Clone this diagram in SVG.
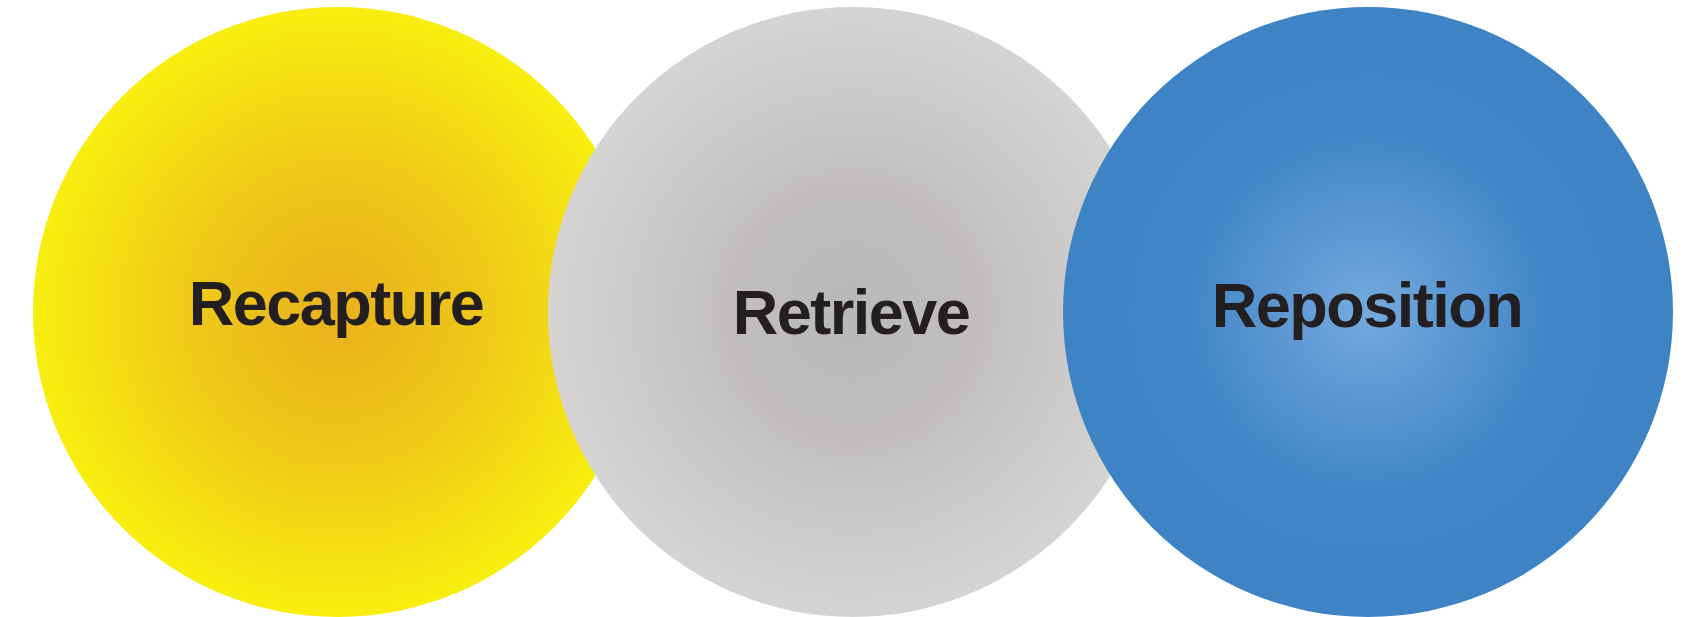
<svg xmlns="http://www.w3.org/2000/svg" width="1695" height="617" viewBox="0 0 1695 617">
<style>
.lbl{font-family:"Liberation Sans",Arial,sans-serif;font-weight:bold;font-size:63px;letter-spacing:-1.5px;fill:#231F20;text-anchor:middle}
</style>
<defs>
<radialGradient id="gy" cx="0.5" cy="0.5" r="0.5">
<stop offset="0" stop-color="#E9B11E"/>
<stop offset="0.5" stop-color="#EFCA18"/>
<stop offset="1" stop-color="#F8EE0F"/>
</radialGradient>
<radialGradient id="gg" cx="0.5" cy="0.5" r="0.5">
<stop offset="0" stop-color="#B9B9B9"/>
<stop offset="0.45" stop-color="#C2BEBE"/>
<stop offset="0.5" stop-color="#C4C3C3"/>
<stop offset="1" stop-color="#D5D4D3"/>
</radialGradient>
<radialGradient id="gb" cx="0.5" cy="0.5" r="0.5">
<stop offset="0" stop-color="#74AADD"/>
<stop offset="0.3" stop-color="#5C97D2"/>
<stop offset="0.6" stop-color="#4186C7"/>
<stop offset="1" stop-color="#3E84C5"/>
</radialGradient>
</defs>
<g id="node-recapture">
<circle cx="338" cy="312" r="305" fill="url(#gy)"/>
<text class="lbl" x="336" y="325">Recapture</text>
</g>
<g id="node-retrieve">
<circle cx="853" cy="312" r="305" fill="url(#gg)"/>
<text class="lbl" x="851" y="334">Retrieve</text>
</g>
<g id="node-reposition">
<circle cx="1368" cy="312" r="305" fill="url(#gb)"/>
<text class="lbl" x="1367" y="327">Reposition</text>
</g>
<g id="connectors"></g>
</svg>
